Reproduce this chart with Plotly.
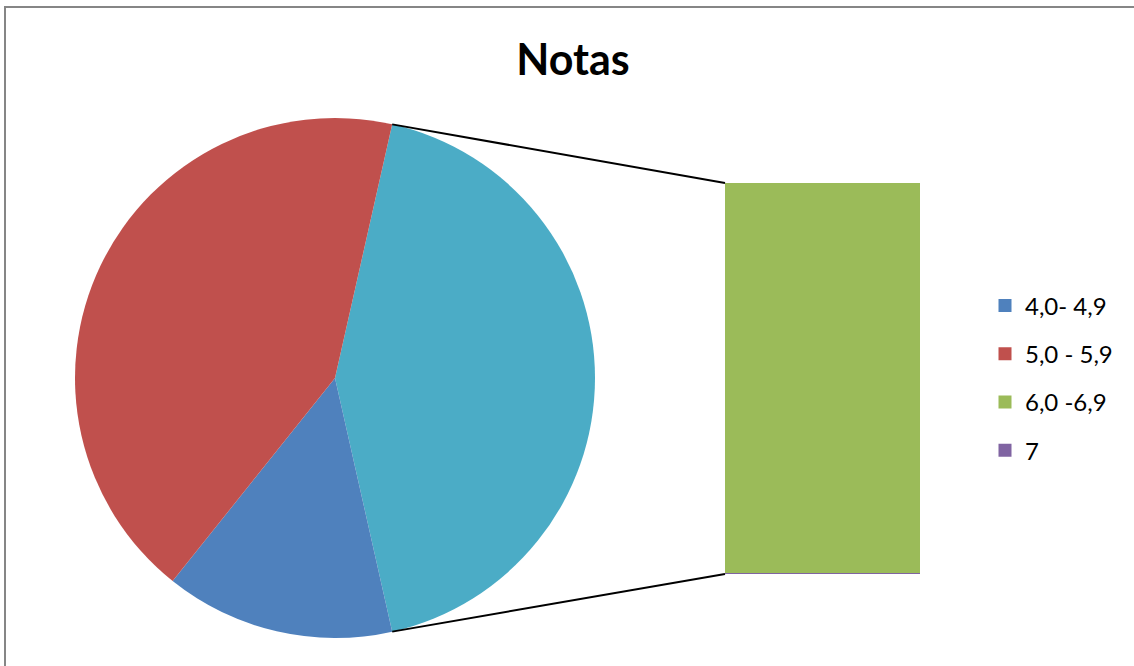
import math
import plotly.graph_objects as go

# ---- data ----
categories = ["4,0- 4,9", "5,0 - 5,9", "6,0 -6,9", "7"]
counts = [5, 15, 15, 0.05]
colors = ["#4F81BD", "#C0504D", "#9BBB59", "#8064A2"]
other_label = "Otros"
other_color = "#4BACC6"
title_text = "Notas"

W, H = 1134, 666

other_val = counts[2] + counts[3]
total = counts[0] + counts[1] + other_val
frac = other_val / total
rotation = 90 - frac * 180  # "other" slice centred on the 3 o'clock direction

pie_dom_x = [75 / W, 595 / W]
pie_dom_y = [1 - 638 / H, 1 - 118 / H]
bar_dom_x = [725 / W, 920 / W]
bar_dom_y = [1 - 574 / H, 1 - 183 / H]

fig = go.Figure()
fig.add_trace(go.Pie(
    labels=[other_label, categories[0], categories[1]],
    values=[other_val, counts[0], counts[1]],
    marker=dict(colors=[other_color, colors[0], colors[1]], line=dict(width=0)),
    sort=False, direction="clockwise", rotation=rotation,
    textinfo="none", hoverinfo="label+value", showlegend=False,
    domain=dict(x=pie_dom_x, y=pie_dom_y),
))

# bar of pie: bottom = "7", top = "6,0 -6,9"
for i in (3, 2):
    fig.add_trace(go.Bar(x=[other_label], y=[counts[i]], name=categories[i],
                         marker=dict(color=colors[i], line=dict(width=0)),
                         showlegend=False))

# legend entries (square markers)
for i in range(4):
    fig.add_trace(go.Scatter(x=[None], y=[None], mode="markers", name=categories[i],
                             marker=dict(symbol="square", size=13, color=colors[i]),
                             legendgroup=categories[i], legendrank=i + 1,
                             hoverinfo="skip"))

# connector lines
pcx = (pie_dom_x[0] + pie_dom_x[1]) / 2 * W
pcy = H - (pie_dom_y[0] + pie_dom_y[1]) / 2 * H
pr = min((pie_dom_x[1] - pie_dom_x[0]) * W, (pie_dom_y[1] - pie_dom_y[0]) * H) / 2
a0 = math.radians(rotation)
a1 = math.radians(rotation + frac * 360)
def edge(a):
    x = pcx + pr * math.sin(a)
    y = pcy - pr * math.cos(a)
    return x / W, 1 - y / H
p0 = edge(a0)
p1 = edge(a1)
shapes = [
    dict(type="line", xref="paper", yref="paper", x0=p0[0], y0=p0[1],
         x1=bar_dom_x[0], y1=bar_dom_y[1], line=dict(color="black", width=2)),
    dict(type="line", xref="paper", yref="paper", x0=p1[0], y0=p1[1],
         x1=bar_dom_x[0], y1=bar_dom_y[0], line=dict(color="black", width=2)),
    dict(type="rect", xref="paper", yref="paper", x0=5 / W, y0=1 - 7 / H,
         x1=1.02, y1=-0.02, line=dict(color="#868686", width=2)),
]

fig.update_layout(
    width=W, height=H, autosize=False,
    margin=dict(l=0, r=0, t=0, b=0),
    paper_bgcolor="white", plot_bgcolor="white",
    barmode="stack", bargap=0,
    title=dict(text="<b>" + title_text + "</b>", x=573 / W, xanchor="center",
               y=1 - 60 / H, yanchor="middle",
               font=dict(family="Lato", size=43, color="black")),
    xaxis=dict(domain=bar_dom_x, range=[-0.5, 0.5], visible=False, fixedrange=True),
    yaxis=dict(domain=bar_dom_y, range=[0, other_val], visible=False, fixedrange=True),
    legend=dict(x=985 / W, xanchor="left", y=1 - 378 / H, yanchor="middle",
                traceorder="grouped", tracegroupgap=14, itemsizing="trace",
                font=dict(family="Lato", size=24, color="black"),
                bgcolor="rgba(0,0,0,0)"),
    shapes=shapes,
    showlegend=True,
)

fig.write_html("out.html", config={"displayModeBar": False},
               post_script="document.body.style.margin='0';document.body.style.overflow='hidden';")
